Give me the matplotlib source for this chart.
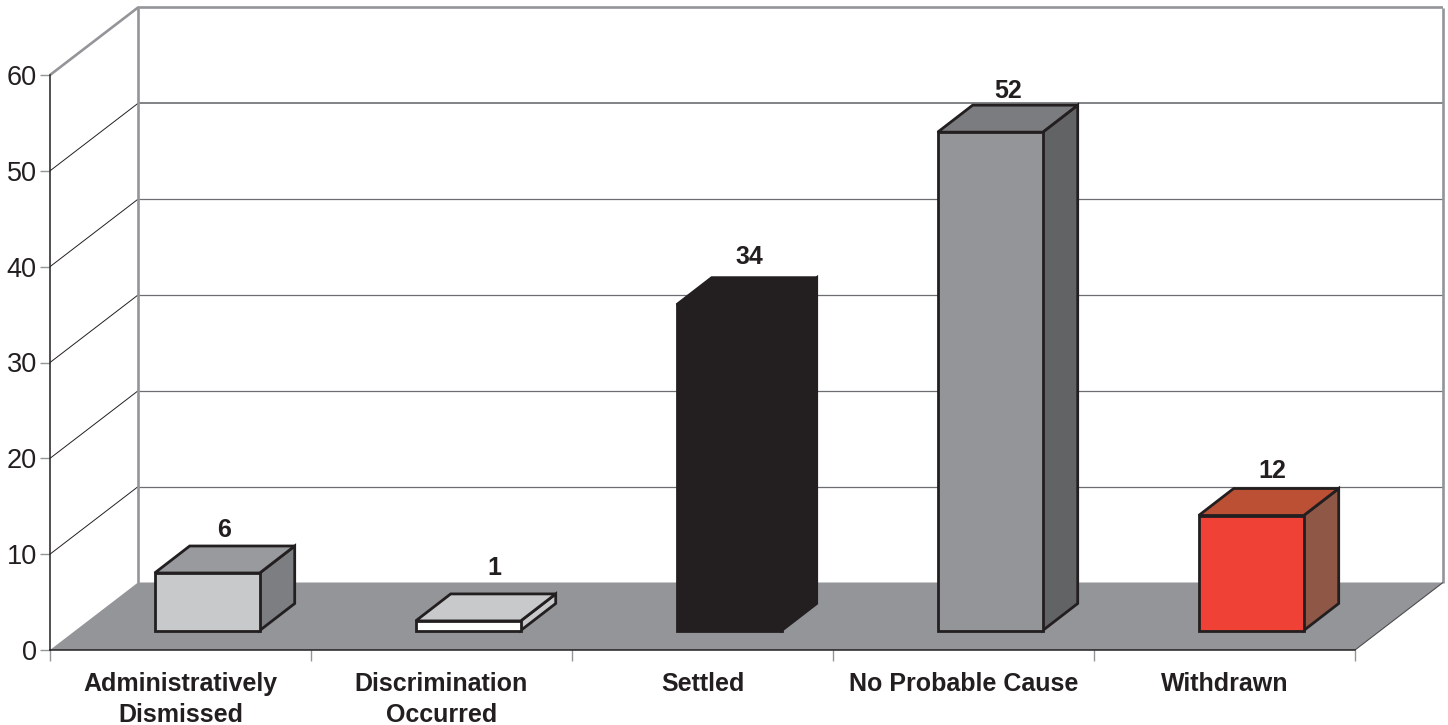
import matplotlib
matplotlib.use("Agg")
import matplotlib.pyplot as plt
from matplotlib.patches import Polygon

categories = ["Administratively\nDismissed", "Discrimination\nOccurred", "Settled",
              "No Probable Cause", "Withdrawn"]
values = [6, 1, 34, 52, 12]
y_ticks = [0, 10, 20, 30, 40, 50, 60]

front_colors = ["#c8c9cb", "#ffffff", "#231f20", "#939598", "#ef4136"]
top_colors = ["#999a9d", "#c8c9cb", "#231f20", "#7b7c80", "#bc5035"]
side_colors = ["#7d7e82", "#c8c9cb", "#231f20", "#626365", "#8f5745"]
label_dx_px = [-1, 9, 3, 0, 4]
label_dy_px = [16, 26, 21, 14, 17]

INK = "#231f20"
GREY = "#939598"
W, H = 1448, 725
PX_X, PX_Y = 261.0, 575 / 60
DX, DY = 88 / PX_X, 67.5 / PX_Y        # wall depth in data units
BX, BY = 35 / PX_X, 27 / PX_Y          # bar depth in data units
BAR_W = 105 / PX_X
BAR_L = 104.7 / PX_X
BASE = 19.5 / PX_Y

plt.rcParams["font.family"] = ["Liberation Sans", "DejaVu Sans"]
fig = plt.figure(figsize=(W / 100, H / 100), dpi=100, facecolor="white")
ax = fig.add_axes([50 / W, (H - 650) / H, 1305 / W, 575 / H])
ax.set_xlim(0, 5)
ax.set_ylim(0, 60)
ax.patch.set_visible(False)


def poly(pts, **kw):
    ax.add_patch(Polygon(pts, closed=True, clip_on=False, **kw))


def line(xs, ys, **kw):
    ax.plot(xs, ys, clip_on=False, solid_capstyle="butt", **kw)


# floor
poly([(0, 0), (DX, DY), (5 + DX, DY), (5, 0)], facecolor=GREY, edgecolor="none", zorder=1)
line([5, 5 + DX], [0, DY], color="#4d4d4f", lw=0.8, zorder=1.5)

# back wall gridlines and side gridlines
for v in y_ticks[1:-1]:
    line([DX, 5 + DX], [v + DY, v + DY], color="#808285" if v == 50 else "#6d6e71",
         lw=1.4 if v == 50 else 0.9, zorder=1.2)
    line([0, DX], [v, v + DY], color=INK, lw=0.7, zorder=1.2)

# wall outline
top = y_ticks[-1]
line([0, DX, 5 + DX], [top, top + DY, top + DY], color=GREY, lw=1.9, zorder=1.3)
line([DX, DX], [DY, top + DY], color=GREY, lw=1.9, zorder=1.3)
line([5 + DX, 5 + DX], [DY, top + DY], color=GREY, lw=1.9, zorder=1.3)

# bars
for i, v in enumerate(values):
    x0 = i + BAR_L
    x1 = x0 + BAR_W
    y1 = BASE + v
    style = dict(edgecolor=INK, linewidth=2.0, joinstyle="miter", zorder=3)
    poly([(x1, BASE), (x1 + BX, BASE + BY), (x1 + BX, y1 + BY), (x1, y1)],
         facecolor=side_colors[i], **style)
    poly([(x0, y1), (x0 + BX, y1 + BY), (x1 + BX, y1 + BY), (x1, y1)],
         facecolor=top_colors[i], **style)
    poly([(x0, BASE), (x0, y1), (x1, y1), (x1, BASE)],
         facecolor=front_colors[i], **style)
    ax.annotate(str(v), xy=((x0 + x1 + BX) / 2, y1 + BY),
                xytext=(label_dx_px[i] * 0.72, label_dy_px[i] * 0.72),
                textcoords="offset points", ha="center", va="center",
                fontsize=18, fontweight="bold", color=INK, annotation_clip=False, zorder=4)

# axes
for s in ("top", "right"):
    ax.spines[s].set_visible(False)
ax.spines["left"].set_color(INK)
ax.spines["left"].set_linewidth(1.1)
ax.spines["bottom"].set_color(INK)
ax.spines["bottom"].set_linewidth(1.1)
ax.spines["left"].set_zorder(2)
ax.spines["bottom"].set_zorder(2)

ax.set_yticks(y_ticks)
ax.tick_params(axis="y", length=7, width=1, color=GREY, labelsize=19.5, labelcolor=INK, pad=2.5)
ax.set_xticks(range(6))
ax.set_xticklabels([])
ax.tick_params(axis="x", which="major", length=8, width=1, color=GREY)
ax.set_xticks([i + 0.5 for i in range(5)], minor=True)
ax.set_xticklabels(categories, minor=True, fontsize=18, fontweight="bold",
                   color=INK, linespacing=1.38, va="top")
ax.tick_params(axis="x", which="minor", length=0, pad=16)

fig.savefig("out.png", dpi=100)
